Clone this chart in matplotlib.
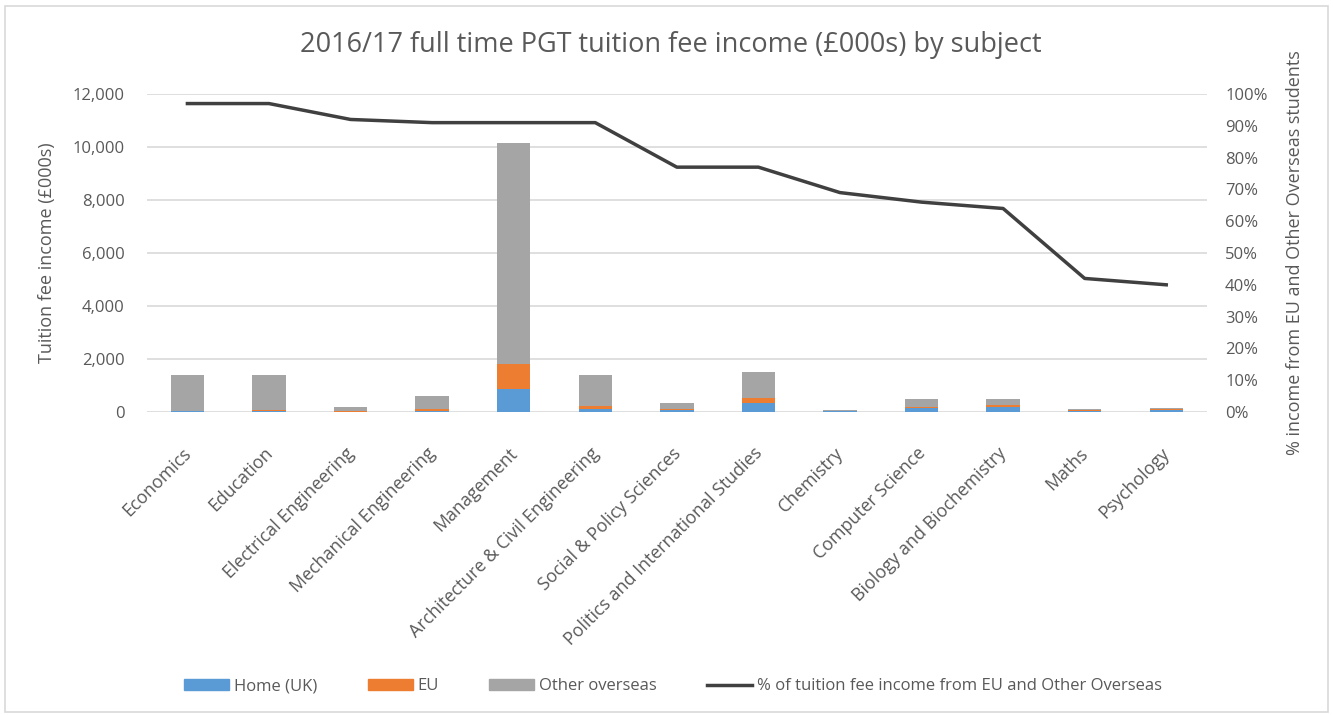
import matplotlib
matplotlib.use("Agg")
import matplotlib.pyplot as plt
import matplotlib.transforms as mtransforms
import numpy as np
from matplotlib.patches import Patch, Rectangle
from matplotlib.lines import Line2D
from matplotlib.ticker import FuncFormatter

plt.rcParams["font.family"] = ["Open Sans", "DejaVu Sans"]

subjects = [
    "Economics", "Education", "Electrical Engineering", "Mechanical Engineering",
    "Management", "Architecture & Civil Engineering", "Social & Policy Sciences",
    "Politics and International Studies", "Chemistry", "Computer Science",
    "Biology and Biochemistry", "Maths", "Psychology",
]
home_uk = [40, 40, 15, 55, 870, 120, 75, 340, 22, 165, 170, 50, 90]
eu = [5, 50, 10, 75, 930, 110, 35, 200, 8, 20, 110, 35, 25]
other_overseas = [1355, 1310, 170, 470, 8350, 1170, 220, 970, 40, 295, 200, 10, 35]
pct_eu_overseas = [97, 97, 92, 91, 91, 91, 77, 77, 69, 66, 64, 42, 40]

C_HOME = "#5B9BD5"
C_EU = "#ED7D31"
C_OTHER = "#A5A5A5"
C_LINE = "#404040"
C_TEXT = "#595959"
C_GRID = "#D9D9D9"

fig = plt.figure(figsize=(13.33, 7.15), dpi=100)
fig.patches.append(Rectangle((0.004, 0.004), 0.992, 0.988, transform=fig.transFigure,
                             fill=False, edgecolor=C_GRID, linewidth=1.2))
ax = fig.add_axes([0.110, 0.4238, 0.7955, 0.4447])

x = np.arange(len(subjects))
w = 0.41
home = np.array(home_uk)
eu_arr = np.array(eu)
oth = np.array(other_overseas)
ax.bar(x, home, w, color=C_HOME, zorder=2)
ax.bar(x, eu_arr, w, bottom=home, color=C_EU, zorder=2)
ax.bar(x, oth, w, bottom=home + eu_arr, color=C_OTHER, zorder=2)

ax.set_xlim(-0.5, len(subjects) - 0.5)
ax.set_ylim(0, 12000)
ax.set_yticks(range(0, 12001, 2000))
ax.yaxis.set_major_formatter(FuncFormatter(lambda v, _: f"{int(v):,}"))
ax.grid(axis="y", color=C_GRID, linewidth=1.2, zorder=0)
ax.set_axisbelow(True)
for s in ax.spines.values():
    s.set_visible(False)
ax.tick_params(axis="both", length=0, labelsize=12, colors=C_TEXT)
ax.tick_params(axis="y", pad=16)
ax.tick_params(axis="x", pad=4, labelsize=12.8)
ax.set_xticks(x)
ax.set_xticklabels(subjects, rotation=45, ha="right", va="center", rotation_mode="anchor")
# nudge the rotated category labels so their ends sit just under each bar
shift = mtransforms.ScaledTranslation(1 / 100, -33 / 100, fig.dpi_scale_trans)
for lbl in ax.get_xticklabels():
    lbl.set_transform(lbl.get_transform() + shift)
ax.set_ylabel("Tuition fee income (£000s)", fontsize=13, color=C_TEXT, labelpad=12)

ax2 = ax.twinx()
ax2.plot(x, pct_eu_overseas, color=C_LINE, linewidth=2.5, zorder=3)
ax2.set_ylim(0, 100)
ax2.set_yticks(range(0, 101, 10))
ax2.yaxis.set_major_formatter(FuncFormatter(lambda v, _: f"{int(v)}%"))
for s in ax2.spines.values():
    s.set_visible(False)
ax2.tick_params(axis="y", length=0, labelsize=12, colors=C_TEXT, pad=13)
ax2.set_ylabel("% income from EU and Other Overseas students", fontsize=13,
               color=C_TEXT, labelpad=13)

fig.suptitle("2016/17 full time PGT tuition fee income (£000s) by subject",
             x=0.503, y=0.957, fontsize=19.5, color=C_TEXT)

handles = [
    Patch(color=C_HOME, label="Home (UK)"),
    Patch(color=C_EU, label="EU"),
    Patch(color=C_OTHER, label="Other overseas"),
    Line2D([], [], color=C_LINE, linewidth=2.5,
           label="% of tuition fee income from EU and Other Overseas"),
]
leg = fig.legend(handles=handles, loc="center", bbox_to_anchor=(0.505, 0.04), ncol=4,
                 frameon=False, fontsize=12, handlelength=2.7, handleheight=0.7,
                 columnspacing=3.0, handletextpad=0.3)
for t in leg.get_texts():
    t.set_color(C_TEXT)

fig.savefig("out.png", dpi=100)
